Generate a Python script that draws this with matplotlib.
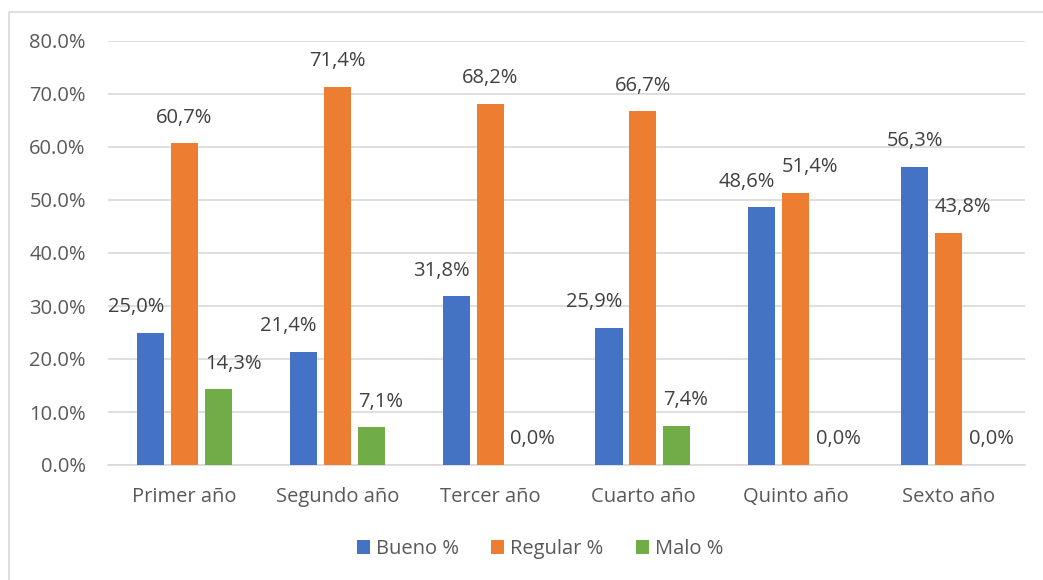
import matplotlib
matplotlib.use("Agg")
import matplotlib.pyplot as plt
from matplotlib.patches import Rectangle
import numpy as np

categories = ["Primer año", "Segundo año", "Tercer año", "Cuarto año", "Quinto año", "Sexto año"]
bueno = [25.0, 21.4, 31.8, 25.9, 48.6, 56.3]
regular = [60.7, 71.4, 68.2, 66.7, 51.4, 43.8]
malo = [14.3, 7.1, 0.0, 7.4, 0.0, 0.0]
series_names = ["Bueno %", "Regular %", "Malo %"]
colors = ["#4472C4", "#ED7D31", "#70AD47"]
yticks = [0, 10, 20, 30, 40, 50, 60, 70, 80]

plt.rcParams['font.family'] = ['Open Sans', 'DejaVu Sans']
txt = "#595959"
fs = 14.5

fig = plt.figure(figsize=(10.43, 5.8), dpi=100)
ax = fig.add_axes([108/1043, 1-465/580, (1025-108)/1043, (465-41)/580])

fig.patches.append(Rectangle((9/1043, -0.1), 1.1, 0.1 + 1 - 12/580, transform=fig.transFigure,
                             fill=False, edgecolor="#d9d9d9", linewidth=1.2))

x = np.arange(len(categories))
w = 0.177
step = 0.222
series = [bueno, regular, malo]
for i, (vals, name, c) in enumerate(zip(series, series_names, colors)):
    xs = x + (i - 1) * step
    ax.bar(xs, vals, width=w, color=c, label=name, zorder=3)

# data labels, nudged sideways (like Excel) when a neighbouring bar would collide
for i, vals in enumerate(series):
    for g, v in enumerate(vals):
        xc = x[g] + (i - 1) * step
        left_n = series[i - 1][g] if i > 0 else None
        right_n = series[i + 1][g] if i < len(series) - 1 else None
        ha, xa = "center", xc
        if left_n is not None and left_n >= v - 5:
            ha, xa = "left", xc - w / 2
        elif right_n is not None and right_n >= v - 5:
            ha, xa = "right", xc + w / 2
        lab = f"{v:.1f}%".replace(".", ",")
        ax.annotate(lab, xy=(xa, v), xytext=(0, 18.5), textcoords="offset points",
                    ha=ha, va="center", fontsize=fs, color="#404040")

ax.set_xlim(-0.5, len(categories) - 0.5)
ax.set_ylim(0, 80)
ax.set_yticks(yticks)
ax.set_yticklabels([f"{t:.1f}%" for t in yticks], fontsize=fs, color=txt)
ax.set_xticks(x)
ax.set_xticklabels(categories, fontsize=fs, color=txt)
ax.tick_params(axis="y", length=0, pad=16)
ax.tick_params(axis="x", length=0, pad=16)
ax.grid(axis="y", color="#d9d9d9", linewidth=1.2, zorder=0)
for s in ["top", "right", "left"]:
    ax.spines[s].set_visible(False)
ax.spines["bottom"].set_color("#d9d9d9")
ax.spines["bottom"].set_linewidth(1.2)

leg = fig.legend(loc="center", bbox_to_anchor=(540/1043, 1-549/580), ncol=3, frameon=False,
                 fontsize=fs, handlelength=0.65, handleheight=0.65, handletextpad=0.3, columnspacing=1.6)
for t in leg.get_texts():
    t.set_color(txt)

fig.savefig("out.png", dpi=100)
